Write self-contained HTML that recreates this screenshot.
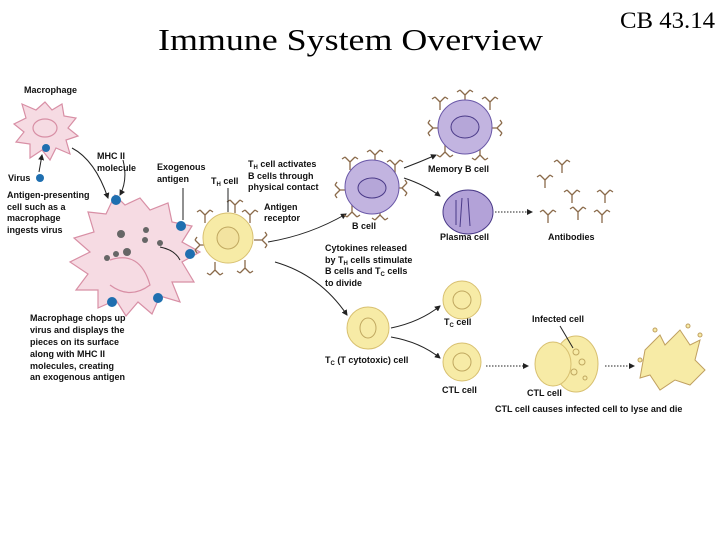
<!DOCTYPE html>
<html><head><meta charset="utf-8"><style>
html,body{margin:0;padding:0;background:#fff;}
svg{display:block;}
.t{font-family:"Liberation Sans",sans-serif;font-weight:bold;font-size:9px;fill:#111;}
</style></head><body>
<svg width="720" height="540" viewBox="0 0 720 540" xmlns="http://www.w3.org/2000/svg">
<defs>
<marker id="ah" markerWidth="6" markerHeight="6" refX="5" refY="3" orient="auto"><path d="M0,0 L6,3 L0,6 z" fill="#222"/></marker>
<g id="ab" stroke="#8a6a4a" stroke-width="1.3" fill="none"><path d="M0,8 L0,0 M0,0 L-5,-5 M0,0 L5,-5 M-5,-5 L-8,-3 M5,-5 L8,-3"/></g>
</defs>
<text x="158" y="50" font-family="Liberation Serif,serif" font-size="31" textLength="385" lengthAdjust="spacingAndGlyphs">Immune System Overview</text>
<text x="620" y="28" font-family="Liberation Serif,serif" font-size="23" textLength="95" lengthAdjust="spacingAndGlyphs">CB 43.14</text>

<!-- small macrophage -->
<text class="t" x="24" y="93">Macrophage</text>
<g fill="#f6dbe3" stroke="#d88fa5" stroke-width="1.2">
<path d="M45,102 L52,110 L62,104 L64,116 L76,118 L68,128 L78,136 L66,140 L70,154 L56,148 L50,160 L42,150 L30,158 L30,144 L16,142 L24,132 L14,124 L26,118 L22,104 L36,110 Z"/>
<ellipse cx="45" cy="128" rx="12" ry="9" fill="none"/>
</g>
<circle cx="46" cy="148" r="4" fill="#1f6fb0"/>
<circle cx="40" cy="178" r="4" fill="#1f6fb0"/>
<path d="M39,172 L42,155" stroke="#222" fill="none" marker-end="url(#ah)"/>
<text class="t" x="8" y="181">Virus</text>
<text class="t" x="7" y="198">Antigen-presenting</text>
<text class="t" x="7" y="210">cell such as a</text>
<text class="t" x="7" y="221">macrophage</text>
<text class="t" x="7" y="233">ingests virus</text>
<path d="M72,148 Q95,160 108,198" stroke="#222" fill="none" marker-end="url(#ah)"/>

<!-- big macrophage -->
<g fill="#f6dbe3" stroke="#d88fa5" stroke-width="1.2">
<path d="M115,195 L125,205 L140,198 L150,210 L168,203 L172,222 L192,226 L182,242 L200,252 L182,262 L194,282 L172,282 L180,302 L160,296 L152,314 L138,302 L126,316 L116,300 L98,308 L98,290 L76,290 L88,274 L70,262 L90,252 L74,238 L94,232 L88,212 L106,214 Z"/>
<path d="M110,260 Q140,250 150,285 Q130,300 110,285" fill="none"/>
</g>
<g fill="#666"><circle cx="121" cy="234" r="4"/><circle cx="116" cy="254" r="3"/><circle cx="146" cy="230" r="3"/><circle cx="127" cy="252" r="4"/><circle cx="107" cy="258" r="3"/><circle cx="160" cy="243" r="3"/><circle cx="145" cy="240" r="3"/></g>
<g fill="#1f6fb0"><circle cx="116" cy="200" r="5"/><circle cx="181" cy="226" r="5"/><circle cx="190" cy="254" r="5"/><circle cx="112" cy="302" r="5"/><circle cx="158" cy="298" r="5"/></g>
<path d="M123,160 Q128,180 120,195" stroke="#222" fill="none" marker-end="url(#ah)"/>
<path d="M183,188 L183,220" stroke="#222" fill="none"/>
<path d="M160,247 Q175,250 180,260" stroke="#222" fill="none"/>
<text class="t" x="97" y="159">MHC II</text>
<text class="t" x="97" y="171">molecule</text>
<text class="t" x="157" y="170">Exogenous</text>
<text class="t" x="157" y="182">antigen</text>
<text class="t" x="211" y="184">T<tspan font-size="6" dy="2">H</tspan><tspan dy="-2"> cell</tspan></text>

<!-- TH cell -->
<g>
<use href="#ab" x="205" y="215"/><use href="#ab" x="250" y="215"/><use href="#ab" x="235" y="205"/><use href="#ab" x="215" y="270" transform="rotate(180 215 270)"/><use href="#ab" x="245" y="268" transform="rotate(180 245 268)"/><use href="#ab" x="262" y="240" transform="rotate(90 262 240)"/><use href="#ab" x="200" y="245" transform="rotate(-90 200 245)"/>
</g>
<circle cx="228" cy="238" r="25" fill="#f7eba6" stroke="#d8c070"/>
<circle cx="228" cy="238" r="11" fill="#f3e3a0" stroke="#c0a860"/>
<path d="M228,212 L228,188" stroke="#222"/>
<text class="t" x="248" y="167">T<tspan font-size="6" dy="2">H</tspan><tspan dy="-2"> cell activates</tspan></text>
<text class="t" x="248" y="179">B cells through</text>
<text class="t" x="248" y="190">physical contact</text>
<text class="t" x="264" y="210">Antigen</text>
<text class="t" x="264" y="221">receptor</text>
<text class="t" x="30" y="321">Macrophage chops up</text>
<text class="t" x="30" y="333">virus and displays the</text>
<text class="t" x="30" y="345">pieces on its surface</text>
<text class="t" x="30" y="357">along with MHC II</text>
<text class="t" x="30" y="369">molecules, creating</text>
<text class="t" x="30" y="380">an exogenous antigen</text>

<path d="M268,242 Q310,235 346,214" stroke="#222" fill="none" marker-end="url(#ah)"/>
<path d="M275,262 Q320,275 347,315" stroke="#222" fill="none" marker-end="url(#ah)"/>

<!-- B cell -->
<use href="#ab" x="350" y="162"/><use href="#ab" x="375" y="155"/><use href="#ab" x="395" y="165"/><use href="#ab" x="352" y="212" transform="rotate(180 352 212)"/><use href="#ab" x="380" y="215" transform="rotate(180 380 215)"/><use href="#ab" x="340" y="190" transform="rotate(-90 340 190)"/><use href="#ab" x="402" y="188" transform="rotate(90 402 188)"/>
<circle cx="372" cy="187" r="27" fill="#c2b4e0" stroke="#6a58a8"/>
<ellipse cx="372" cy="188" rx="14" ry="10" fill="#b5a6d8" stroke="#4a3a88"/>
<text class="t" x="352" y="229">B cell</text>

<!-- memory -->
<use href="#ab" x="440" y="102"/><use href="#ab" x="465" y="95"/><use href="#ab" x="490" y="102"/><use href="#ab" x="445" y="152" transform="rotate(180 445 152)"/><use href="#ab" x="480" y="155" transform="rotate(180 480 155)"/><use href="#ab" x="433" y="128" transform="rotate(-90 433 128)"/><use href="#ab" x="497" y="128" transform="rotate(90 497 128)"/>
<circle cx="465" cy="127" r="27" fill="#c2b4e0" stroke="#6a58a8"/>
<ellipse cx="465" cy="127" rx="14" ry="11" fill="#b5a6d8" stroke="#4a3a88"/>
<text class="t" x="428" y="172">Memory B cell</text>
<path d="M404,168 Q420,162 436,155" stroke="#222" fill="none" marker-end="url(#ah)"/>
<path d="M404,178 Q425,185 440,196" stroke="#222" fill="none" marker-end="url(#ah)"/>

<!-- plasma -->
<ellipse cx="468" cy="212" rx="25" ry="22" fill="#b3a2d8" stroke="#4a3a88"/>
<path d="M456,200 L456,225 M462,198 L460,227 M468,198 L470,226" stroke="#4a3a88"/>
<text class="t" x="440" y="240">Plasma cell</text>
<path d="M495,212 L532,212" stroke="#222" stroke-dasharray="1.5,1.5" fill="none" marker-end="url(#ah)"/>
<use href="#ab" x="545" y="180"/><use href="#ab" x="562" y="165"/><use href="#ab" x="572" y="195"/><use href="#ab" x="605" y="195"/><use href="#ab" x="548" y="215"/><use href="#ab" x="578" y="212"/><use href="#ab" x="602" y="215"/>
<text class="t" x="548" y="240">Antibodies</text>

<text class="t" x="325" y="251">Cytokines released</text>
<text class="t" x="325" y="263">by T<tspan font-size="6" dy="2">H</tspan><tspan dy="-2"> cells stimulate</tspan></text>
<text class="t" x="325" y="274">B cells and T<tspan font-size="6" dy="2">C</tspan><tspan dy="-2"> cells</tspan></text>
<text class="t" x="325" y="286">to divide</text>

<!-- Tc cells -->
<circle cx="368" cy="328" r="21" fill="#f7eba6" stroke="#d8c070"/>
<ellipse cx="368" cy="328" rx="8" ry="10" fill="none" stroke="#c0a860"/>
<text class="t" x="325" y="363">T<tspan font-size="6" dy="2">C</tspan><tspan dy="-2"> (T cytotoxic) cell</tspan></text>
<path d="M391,328 Q420,322 440,306" stroke="#222" fill="none" marker-end="url(#ah)"/>
<path d="M391,337 Q420,342 440,358" stroke="#222" fill="none" marker-end="url(#ah)"/>
<circle cx="462" cy="300" r="19" fill="#f7eba6" stroke="#d8c070"/>
<ellipse cx="462" cy="300" rx="9" ry="9" fill="none" stroke="#c0a860"/>
<text class="t" x="444" y="325">T<tspan font-size="6" dy="2">C</tspan><tspan dy="-2"> cell</tspan></text>
<circle cx="462" cy="362" r="19" fill="#f7eba6" stroke="#d8c070"/>
<ellipse cx="462" cy="362" rx="9" ry="9" fill="none" stroke="#c0a860"/>
<text class="t" x="442" y="393">CTL cell</text>
<path d="M486,366 L528,366" stroke="#222" stroke-dasharray="1.5,1.5" fill="none" marker-end="url(#ah)"/>

<!-- CTL + infected -->
<ellipse cx="576" cy="364" rx="22" ry="28" fill="#f7eba6" stroke="#d8c070"/>
<ellipse cx="553" cy="364" rx="18" ry="22" fill="#f7eba6" stroke="#d8c070"/>
<g fill="none" stroke="#c0a860"><circle cx="576" cy="352" r="3"/><circle cx="582" cy="362" r="3"/><circle cx="574" cy="372" r="3"/><circle cx="585" cy="378" r="2"/></g>
<text class="t" x="532" y="322">Infected cell</text>
<path d="M560,326 L573,348" stroke="#222"/>
<text class="t" x="527" y="396">CTL cell</text>
<path d="M605,366 L634,366" stroke="#222" stroke-dasharray="1.5,1.5" fill="none" marker-end="url(#ah)"/>
<path d="M645,350 L660,335 L665,345 L680,330 L690,345 L700,340 L695,360 L705,370 L690,385 L675,380 L660,390 L650,375 L640,378 Z" fill="#f7eba6" stroke="#c0a060"/>
<g fill="#f7eba6" stroke="#c0a060"><circle cx="655" cy="330" r="2"/><circle cx="688" cy="326" r="2"/><circle cx="700" cy="335" r="2"/><circle cx="640" cy="360" r="2"/></g>
<text class="t" x="495" y="412">CTL cell causes infected cell to lyse and die</text>
</svg>
</body></html>
